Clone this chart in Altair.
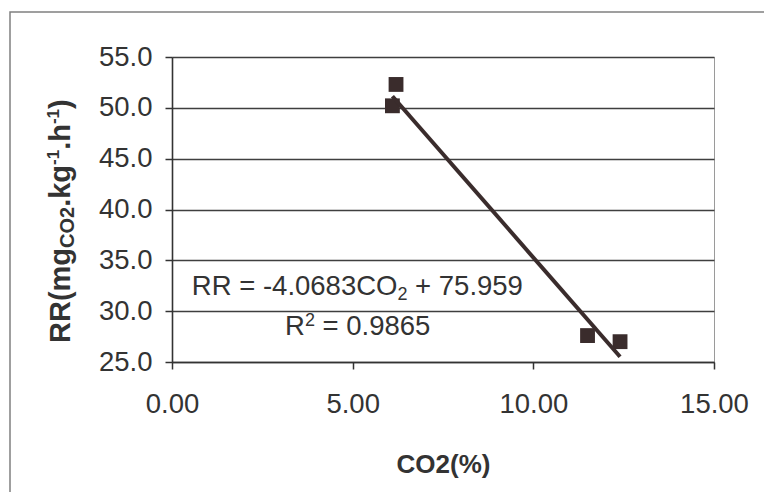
import altair as alt
import pandas as pd

# Measured respiration rate against CO2 concentration
co2 = [6.1, 6.2, 11.5, 12.4]
rr = [50.2, 52.3, 27.6, 27.0]

# Linear trendline reported on the chart
slope = -4.0683
intercept = 75.959
r_squared = 0.9865

x_ticks = [0, 5, 10, 15]
y_ticks = [25, 30, 35, 40, 45, 50, 55]

FONT = "Liberation Sans"
INK = "#333333"
MARK = "#3a2c2c"

# Advance widths (per 1000 em) of Liberation Sans, used to chain rich-text pieces
REG = {"R": 722, " ": 278, "=": 584, "-": 333, ".": 278, "C": 722, "O": 778,
       "+": 584, **{d: 556 for d in "0123456789"}}
BOLD = {"R": 722, "(": 333, ")": 333, "m": 889, "g": 611, "C": 722, "O": 778,
        ".": 278, "k": 556, "-": 333, "h": 611, **{d: 556 for d in "0123456789"}}


def text_width(s, size, bold=False):
    table = BOLD if bold else REG
    return sum(table[c] for c in s) * size / 1000.0


W, H = 542, 305
x_scale = alt.Scale(domain=[0, 15], nice=False, zero=False)
y_scale = alt.Scale(domain=[25, 55], nice=False, zero=False)

points_df = pd.DataFrame({"CO2": co2, "RR": rr})
fit_x = [min(co2), max(co2)]
fit_df = pd.DataFrame({"CO2": fit_x, "RR": [slope * v + intercept for v in fit_x]})

x_enc = alt.X(
    "CO2:Q", scale=x_scale,
    axis=alt.Axis(values=x_ticks, format=".2f", title="CO2(%)", grid=False,
                  labelFont=FONT, labelFontSize=27.5, labelColor=INK, labelPadding=21,
                  tickSize=7, tickColor="#333333", tickWidth=1.5,
                  domainColor="#333333", domainWidth=1.5,
                  titleFont=FONT, titleFontSize=26, titleFontWeight="bold",
                  titleColor=INK, titlePadding=34, labelFlush=False),
)
y_enc = alt.Y(
    "RR:Q", scale=y_scale,
    axis=alt.Axis(values=y_ticks, format=".1f", title=None,
                  grid=True, gridColor="#3f3f3f", gridWidth=1.6,
                  labelFont=FONT, labelFontSize=27.5, labelColor=INK, labelPadding=13,
                  tickSize=7, tickColor="#333333", tickWidth=1.5,
                  domainColor="#333333", domainWidth=1.6, labelFlush=False),
)

points = alt.Chart(points_df).mark_point(
    shape="square", filled=True, size=220, color=MARK, opacity=1
).encode(x=x_enc, y=y_enc)

trend = alt.Chart(fit_df).mark_line(color=MARK, strokeWidth=4).encode(
    x=alt.X("CO2:Q", scale=x_scale), y=alt.Y("RR:Q", scale=y_scale)
)

# Outer chart frame
frame = alt.Chart(pd.DataFrame({"k": [0]})).mark_rect(
    fill=None, stroke="#808080", strokeWidth=1.5
).encode(x=alt.value(-162), x2=alt.value(800), y=alt.value(-45), y2=alt.value(600))

layers = [frame, points, trend]


def piece(text, xv, yv, dx, dy, size, bold=False, angle=None, pixel=False):
    kw = dict(text=text, font=FONT, fontSize=size, color=INK, align="left",
              baseline="alphabetic", dx=dx, dy=dy)
    if bold:
        kw["fontWeight"] = "bold"
    if angle is not None:
        kw["angle"] = angle
    base = alt.Chart(pd.DataFrame({"x": [xv], "y": [yv]})).mark_text(**kw)
    if pixel:
        return base.encode(x=alt.value(xv), y=alt.value(yv))
    return base.encode(x=alt.X("x:Q", scale=x_scale), y=alt.Y("y:Q", scale=y_scale))


SP = text_width(" ", 27.5)

# Trendline equation: RR = -4.0683CO2 + 75.959
eq_x, eq_y = 0.55, 31.6
eq_main = "RR = %.4fCO" % slope
eq_tail = "+ %.3f" % intercept
off = 0.0
layers.append(piece(eq_main, eq_x, eq_y, off, 0, 27.5))
off += text_width(eq_main, 27.5)
layers.append(piece("2", eq_x, eq_y, off, 5, 18))
off += text_width("2", 18) + SP
layers.append(piece(eq_tail, eq_x, eq_y, off, 0, 27.5))

# Coefficient of determination: R² = 0.9865
r2_x, r2_y = 3.13, 27.66
layers.append(piece("R", r2_x, r2_y, 0, 0, 27.5))
layers.append(piece("2", r2_x, r2_y, text_width("R", 27.5), -9, 18))
layers.append(piece("= %.4f" % r_squared, r2_x, r2_y,
                    text_width("R", 27.5) + text_width("2", 18) + SP, 0, 27.5))

# Rotated y-axis title RR(mg_CO2.kg^-1.h^-1) built from rich-text pieces
ty_x, ty_y = -102, 286
title_parts = [
    ("RR(mg", 29, 0),
    ("CO2", 20, 4),
    (".kg", 29, 0),
    ("-1", 17, -11),
    (".h", 29, 0),
    ("-1", 17, -11),
    (")", 29, 0),
]
off = 0.0
for txt, size, shift in title_parts:
    layers.append(piece(txt, ty_x, ty_y, off, shift, size, bold=True, angle=270, pixel=True))
    off += text_width(txt, size, bold=True)

chart = alt.layer(*layers).properties(
    width=W, height=H,
    autosize=alt.AutoSizeParams(type="none"),
    padding={"left": 172, "top": 57, "right": 50, "bottom": 130},
    background="#ffffff",
).configure_view(stroke="#9a9a9a", strokeWidth=1)

chart.save("out.html", embed_options={"renderer": "svg", "actions": False})
